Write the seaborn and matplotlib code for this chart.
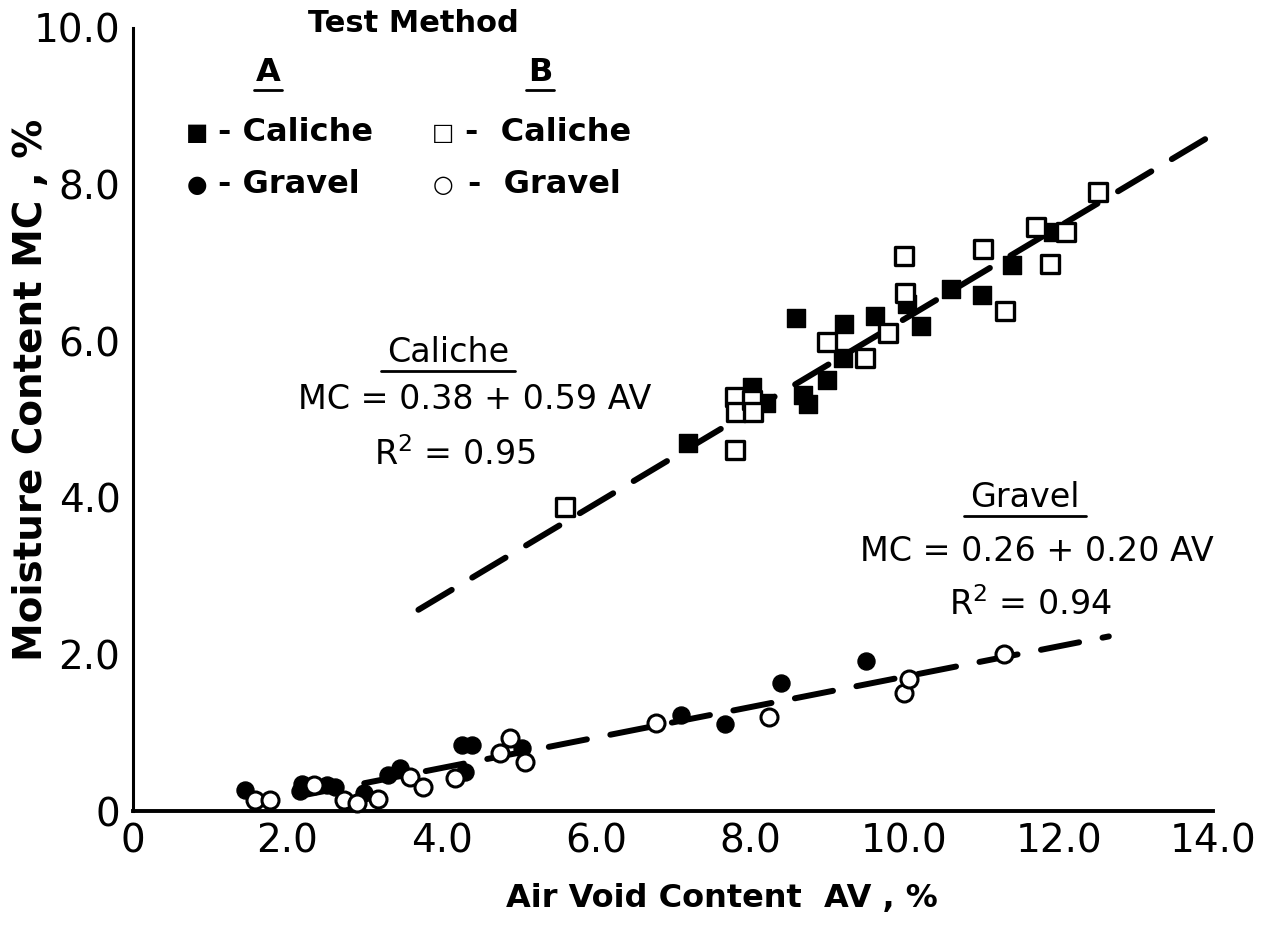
import pandas as pd
import seaborn as sns
import matplotlib.pyplot as plt
from matplotlib.lines import Line2D
from matplotlib.ticker import MultipleLocator, FuncFormatter

# --- data ---
# Test method A (solid symbols)
caliche_a_av = [7.20, 8.02, 8.21, 8.60, 8.69, 8.75, 9.00, 9.21, 9.22, 9.62, 10.03, 10.21, 10.60, 11.00, 11.39, 11.93]
caliche_a_mc = [4.70, 5.42, 5.21, 6.30, 5.31, 5.20, 5.50, 5.78, 6.22, 6.32, 6.48, 6.19, 6.67, 6.59, 6.97, 7.40]
gravel_a_av = [1.45, 2.16, 2.19, 2.51, 2.62, 2.99, 3.31, 3.46, 4.26, 4.30, 4.39, 5.04, 7.10, 7.68, 8.40, 9.50]
gravel_a_mc = [0.27, 0.25, 0.35, 0.33, 0.31, 0.23, 0.46, 0.55, 0.84, 0.50, 0.84, 0.80, 1.23, 1.11, 1.64, 1.91]

# Test method B (open symbols)
caliche_b_av = [5.60, 7.80, 7.80, 7.82, 8.02, 8.04, 8.99, 9.49, 9.79, 9.99, 10.01, 11.02, 11.30, 11.71, 11.89, 12.10, 12.51]
caliche_b_mc = [3.88, 4.61, 5.29, 5.10, 5.25, 5.09, 5.99, 5.79, 6.10, 7.09, 6.61, 7.18, 6.38, 7.46, 6.99, 7.40, 7.90]
gravel_b_av = [1.58, 1.78, 2.34, 2.73, 2.90, 3.18, 3.59, 3.76, 4.17, 4.76, 4.89, 5.08, 6.78, 8.25, 10.00, 10.06, 11.29]
gravel_b_mc = [0.14, 0.14, 0.33, 0.14, 0.10, 0.16, 0.44, 0.31, 0.42, 0.74, 0.93, 0.63, 1.12, 1.20, 1.51, 1.69, 2.01]

# regression lines (end points as drawn)
caliche_fit_av = [3.70, 14.00]
caliche_fit_mc = [2.57, 8.64]
gravel_fit_av = [2.20, 12.65]
gravel_fit_mc = [0.20, 2.23]

caliche_eq = "MC = 0.38 + 0.59 AV"
caliche_r2 = "R$^2$ = 0.95"
gravel_eq = "MC = 0.26 + 0.20 AV"
gravel_r2 = "R$^2$ = 0.94"

sns.set_style("white", rc={"axes.edgecolor": "black", "text.color": "black",
                           "axes.labelcolor": "black", "xtick.color": "black",
                           "ytick.color": "black"})
plt.rcParams['font.family'] = ['DejaVu Sans']

fig = plt.figure(figsize=(12.63, 9.27), dpi=100)
ax = fig.add_axes([0.1053, 0.1251, 0.8551, 0.8447])

# fitted lines
dash = (0, (6.5, 4.0))
sns.lineplot(x=caliche_fit_av, y=caliche_fit_mc, ax=ax, color="black", lw=4.3,
             linestyle=dash, dash_capstyle="round", zorder=2)
sns.lineplot(x=gravel_fit_av, y=gravel_fit_mc, ax=ax, color="black", lw=4.3,
             linestyle=dash, dash_capstyle="round", zorder=2)

# points
ms = 150
sns.scatterplot(x=caliche_a_av, y=caliche_a_mc, ax=ax, marker="s", s=ms,
                color="black", edgecolor="black", linewidth=1, zorder=3, clip_on=False)
sns.scatterplot(x=gravel_a_av, y=gravel_a_mc, ax=ax, marker="o", s=ms,
                color="black", edgecolor="black", linewidth=1, zorder=3, clip_on=False)
sns.scatterplot(x=caliche_b_av, y=caliche_b_mc, ax=ax, marker="s", s=ms,
                facecolor="white", edgecolor="black", linewidth=2.4, zorder=4, clip_on=False)
sns.scatterplot(x=gravel_b_av, y=gravel_b_mc, ax=ax, marker="o", s=ms,
                facecolor="white", edgecolor="black", linewidth=2.2, zorder=4, clip_on=False)

# axes styling
ax.set_xlim(0, 14)
ax.set_ylim(0, 10)
sns.despine(ax=ax)
ax.spines['left'].set_linewidth(2.2)
ax.spines['bottom'].set_linewidth(2.8)
ax.xaxis.set_major_locator(MultipleLocator(2))
ax.xaxis.set_minor_locator(MultipleLocator(1))
ax.yaxis.set_major_locator(MultipleLocator(2))
ax.yaxis.set_minor_locator(MultipleLocator(1))
fmt = FuncFormatter(lambda v, p: "0" if v == 0 else f"{v:.1f}")
ax.xaxis.set_major_formatter(fmt)
ax.yaxis.set_major_formatter(fmt)
ax.tick_params(axis="x", which="major", direction="in", length=19, width=1.3, labelsize=28, pad=8)
ax.tick_params(axis="x", which="minor", direction="in", length=17, width=1.3)
ax.tick_params(axis="y", which="both", direction="in", length=17, width=1.3, labelsize=28, pad=9)

ax.set_xlabel("Air Void Content  AV , %", fontsize=23, fontweight="bold")
ax.set_ylabel("Moisture Content MC , %", fontsize=28, fontweight="bold")
ax.xaxis.set_label_coords(0.545, -0.092)
ax.yaxis.set_label_coords(-0.077, 0.538)

# legend drawn as text
kw = dict(transform=ax.transAxes, fontsize=23, fontweight="bold", va="center", clip_on=False)
mk = dict(transform=ax.transAxes, fontsize=17, ha="center", va="center")
ax.text(0.260, 1.006, "Test Method", ha="center",
        **{**kw, "fontsize": 22})
tA = ax.text(0.125, 0.943, "A", ha="center", **kw)
tB = ax.text(0.377, 0.943, "B", ha="center", **kw)
ax.text(0.059, 0.866, "■", **mk)
ax.text(0.0787, 0.866, "- Caliche", ha="left", **kw)
ax.text(0.287, 0.866, "□", **mk)
ax.text(0.307, 0.866, "-  Caliche", ha="left", **kw)
ax.text(0.059, 0.800, "●", **mk)
ax.text(0.0787, 0.800, "- Gravel", ha="left", **kw)
ax.text(0.287, 0.800, "○", **mk)
ax.text(0.310, 0.800, "-  Gravel", ha="left", **kw)

# regression annotations
kw2 = dict(transform=ax.transAxes, fontsize=24, ha="center", va="center")
tc = ax.text(0.2917, 0.586, "Caliche", **kw2)
ax.text(0.3167, 0.525, caliche_eq, **kw2)
ax.text(0.298, 0.455, caliche_r2, **kw2)
tg = ax.text(0.826, 0.401, "Gravel", **kw2)
ax.text(0.837, 0.331, gravel_eq, **kw2)
ax.text(0.8306, 0.264, gravel_r2, **kw2)

# underline some labels
fig.canvas.draw()
inv = fig.transFigure.inverted()
for t, extra in [(tA, 2), (tB, 2), (tc, 6), (tg, 6)]:
    bb = t.get_window_extent()
    (x0, y0), (x1, _) = inv.transform([(bb.x0 - extra, bb.y0 - 2), (bb.x1 + extra, bb.y0 - 2)])
    fig.add_artist(Line2D([x0, x1], [y0, y0], color="black", lw=2))

plt.savefig("out.png", dpi=100)
